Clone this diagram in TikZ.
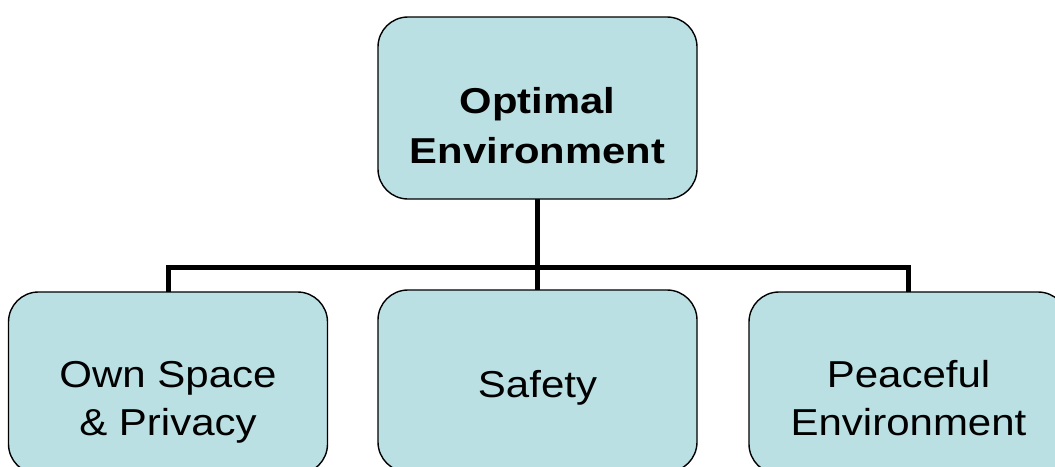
\documentclass[tikz,border=0pt]{standalone}
\usepackage{fontspec}
\usepackage{graphicx}
\setmainfont{Liberation Sans}
\definecolor{boxfill}{RGB}{187,224,227}
\newcommand{\widetext}[2][1.12]{\scalebox{#1}[1]{#2}}
\tikzset{
  boxnode/.style={draw=black, line width=1.4pt, fill=boxfill, rounded corners=30pt,
    minimum width=319pt, minimum height=182pt, inner sep=0pt},
  lbl/.style={anchor=base, inner sep=0pt, font=\fontsize{37.5}{44}\selectfont},
  lblbold/.style={anchor=base, inner sep=0pt, font=\fontsize{36}{44}\selectfont\bfseries},
  bus/.style={line width=5pt, draw=black}
}
\begin{document}
\begin{tikzpicture}[x=1pt,y=1pt]
\useasboundingbox (0,0) rectangle (1055,-466);
\clip (0,0) rectangle (1055,-466);
\fill[white] (0,0) rectangle (1055,-466);

% connector tree (drawn first, boxes cover the ends)
\coordinate (topc) at (537.5,-199);
\coordinate (j) at (537.5,-267);
\coordinate (lc) at (168,-292);
\coordinate (mc) at (537.5,-292);
\coordinate (rc) at (908.5,-292);
\draw[bus] (topc) -- (j);
\draw[bus] (lc) |- (j) -| (rc);
\draw[bus] (j) -- (mc);

% boxes
\node[boxnode] (top) at (537.5,-108) {};
\node[boxnode] (left) at (168,-383) {};
\node[boxnode] (mid) at (537.5,-381) {};
\node[boxnode] (right) at (908.5,-383) {};

% labels
\node[lblbold] (top1) at (537.5,-113) {\widetext[1.16]{Optimal}};
\node[lblbold] (top2) at (537.5,-163.5) {\widetext[1.16]{Environment}};
\node[lbl] (left1) at (168,-387) {\widetext{Own Space}};
\node[lbl] (left2) at (168,-435) {\widetext{\& Privacy}};
\node[lbl] (mid1) at (537.5,-397) {\widetext{Safety}};
\node[lbl] (right1) at (908.5,-387) {\widetext{Peaceful}};
\node[lbl] (right2) at (908.5,-435) {\widetext{Environment}};
\end{tikzpicture}
\end{document}
